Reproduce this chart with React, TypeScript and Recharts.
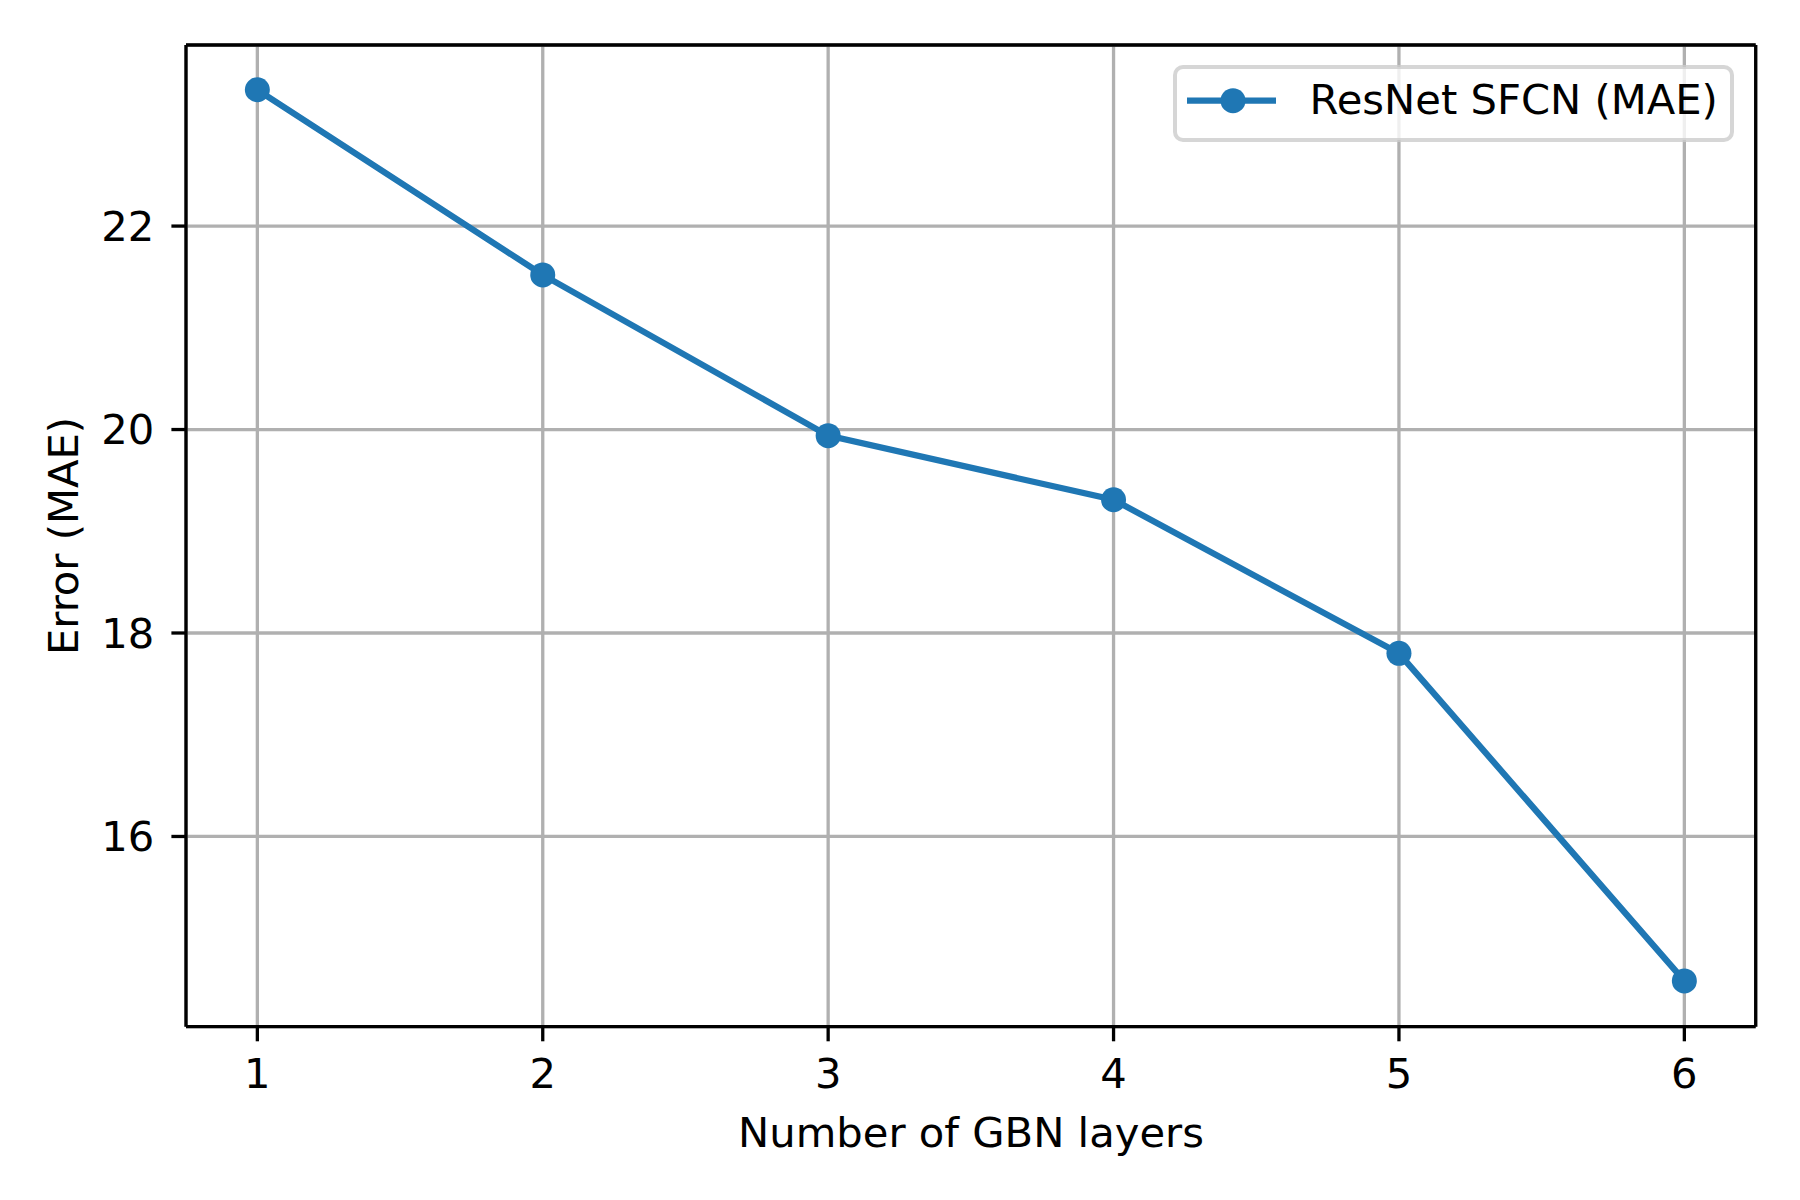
import React from 'react';
import { LineChart, Line, XAxis, YAxis, CartesianGrid, Legend, ReferenceLine } from 'recharts';

const layers = [1, 2, 3, 4, 5, 6];
const maeValues = [23.34, 21.52, 19.94, 19.31, 17.8, 14.58];
const xTicks = [1, 2, 3, 4, 5, 6];
const yTicks = [16, 18, 20, 22];
const xDomain: [number, number] = [0.75, 6.25];
const yDomain: [number, number] = [14.13, 23.78];
const seriesName = 'ResNet SFCN (MAE)';
const xLabel = 'Number of GBN layers';
const yLabel = 'Error (MAE)';

const data = layers.map((x, i) => ({ x, mae: maeValues[i] }));

const FONT = 'DejaVu Sans, sans-serif';
const FS = 41.7;
const BLUE = '#1f77b4';

const renderLegend = () => (
  <svg width={561} height={77} style={{ display: 'block' }}>
    <rect x={2} y={2} width={557} height={73} rx={8} ry={8} fill="#ffffff" fillOpacity={0.8} stroke="#cccccc" strokeOpacity={0.8} strokeWidth={4} />
    <line x1={14} y1={35.7} x2={103} y2={35.7} stroke={BLUE} strokeWidth={6.25} />
    <circle cx={60} cy={35.7} r={12.5} fill={BLUE} />
    <text x={136.6} y={49} fontFamily={FONT} fontSize={FS} fill="#000">{seriesName}</text>
  </svg>
);

const renderXLabel = () => (
  <text x={971} y={1147} textAnchor="middle" fontFamily={FONT} fontSize={FS} fill="#000">{xLabel}</text>
);

const renderYLabel = () => (
  <text transform="translate(78.3, 536) rotate(-90)" textAnchor="middle" fontFamily={FONT} fontSize={FS} fill="#000">{yLabel}</text>
);

export default function App() {
  return (
    <div style={{ position: 'absolute', left: 0, top: 0, width: 1800, height: 1200, background: '#fff' }}>
      <LineChart
        width={1800}
        height={1200}
        data={data}
        margin={{ top: 45, right: 44.3, bottom: 73.3, left: 0 }}
      >
        <CartesianGrid stroke="#b0b0b0" strokeWidth={3.3} />
        <XAxis
          dataKey="x"
          type="number"
          domain={xDomain}
          ticks={xTicks}
          allowDataOverflow
          height={100}
          tickSize={14.6}
          tickMargin={17}
          axisLine={{ stroke: '#000', strokeWidth: 3.3 }}
          tickLine={{ stroke: '#000', strokeWidth: 3.3 }}
          tick={{ fill: '#000', fontFamily: FONT, fontSize: FS }}
          label={renderXLabel}
        />
        <YAxis
          type="number"
          domain={yDomain}
          ticks={yTicks}
          allowDataOverflow
          width={186}
          tickSize={14.6}
          tickMargin={17}
          axisLine={{ stroke: '#000', strokeWidth: 3.3 }}
          tickLine={{ stroke: '#000', strokeWidth: 3.3 }}
          tick={{ fill: '#000', fontFamily: FONT, fontSize: FS }}
          label={renderYLabel}
        />
        <ReferenceLine y={yDomain[1]} stroke="#000" strokeWidth={3.3} />
        <ReferenceLine x={xDomain[1]} stroke="#000" strokeWidth={3.3} />
        <Line
          dataKey="mae"
          name={seriesName}
          stroke={BLUE}
          strokeWidth={6.25}
          dot={{ r: 12.5, fill: BLUE, stroke: 'none', strokeWidth: 0 }}
          activeDot={false}
          isAnimationActive={false}
        />
        <Legend
          layout="horizontal"
          verticalAlign="middle"
          align="center"
          content={renderLegend}
          wrapperStyle={{ left: 1173, top: 65, width: 561, height: 77, right: 'auto', bottom: 'auto' }}
        />
      </LineChart>
    </div>
  );
}
